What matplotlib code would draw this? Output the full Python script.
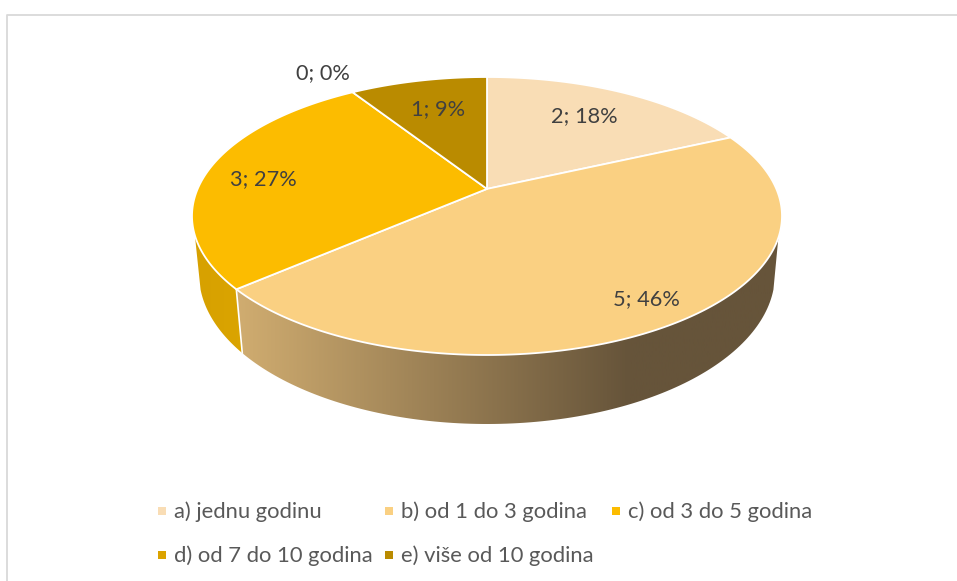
import numpy as np
import matplotlib
matplotlib.use('Agg')
import matplotlib.pyplot as plt
from matplotlib.colors import LinearSegmentedColormap
from matplotlib.patches import Polygon, Rectangle

#%% data
labels = ['a) jednu godinu', 'b) od 1 do 3 godina', 'c) od 3 do 5 godina',
          'd) od 7 do 10 godina', 'e) više od 10 godina']
counts = [2, 5, 3, 0, 1]
percents = [18, 46, 27, 0, 9]
top_colors = ['#F9DDB5', '#FAD082', '#FCBC00', '#DBA300', '#BA8B00']

#%% geometry of the tilted disc, in image pixels
cx, cy, rx, ry = 487, 216, 295, 139
apex_shift = 0.195
low_cy, low_rx, low_ry = 274, 288, 150
H, W = 581, 957

plt.rcParams['font.family'] = ['Lato', 'DejaVu Sans']


def rimPoint(t):
    # t clockwise from the top, in radians; perspective moves the apex up
    u, v = np.sin(t), np.cos(t)
    d = 1 + apex_shift * v
    x = u * np.sqrt(1 - apex_shift ** 2) / d
    y = (v + apex_shift) / d
    return cx + rx * x, cy - ry * y


def belowAngle(t):
    # angle on the ellipse, 0 at the right end and pi at the left, going by the front
    x, y = rimPoint(t)
    return np.arctan2((y - cy) / ry, (x - cx) / rx)


def upperArc(b):
    return cx + rx * np.cos(b), cy + ry * np.sin(b)


def lowerArc(b):
    return cx + low_rx * np.cos(b), low_cy + low_ry * np.sin(b)


def wall(ax, b0, b1, low0, low1, stops, x0, x1):
    ux, uy = upperArc(np.linspace(b0, b1, 120))
    lx, ly = lowerArc(np.linspace(low1, low0, 120))
    pts = np.column_stack([np.r_[ux, lx], np.r_[uy, ly]])
    poly = Polygon(pts, closed=True, fc='none', ec='none', transform=ax.transData)
    ax.add_patch(poly)
    cmap = LinearSegmentedColormap.from_list('w', stops)
    grad = np.linspace(0, 1, 256).reshape(1, -1)
    im = ax.imshow(grad, cmap=cmap, extent=[x0, x1, H, 0], aspect='auto', zorder=1)
    im.set_clip_path(poly)


fig = plt.figure(figsize=(W / 100, H / 100), dpi=100)
ax = fig.add_axes([0, 0, 1, 1])
ax.axis('off')

# chart frame, only top and left fall inside the crop
ax.plot([W, 6.5, 6.5], [14.5, 14.5, H], color='#D9D9D9', lw=1.3, zorder=0)

# slice limits from the counts
edges = np.r_[0, np.cumsum(counts)] / np.sum(counts) * 2 * np.pi

# side wall of the pie
seam = belowAngle(edges[2])
b_right = np.radians(9)
b_left = np.pi - np.radians(8)
wall(ax, b_right, seam, np.radians(6), seam,
     [(0, '#D2AE71'), (0.72, '#66543A'), (1, '#66543A')], 230, 785)
wall(ax, seam, b_left, seam, np.pi - np.radians(6), ['#D6A000', '#DBA500'], 185, 250)

# seam between the two visible wall parts
sx = [upperArc(seam)[0], lowerArc(seam)[0]]
sy = [upperArc(seam)[1], lowerArc(seam)[1]]
ax.plot(sx, sy, color='white', lw=1.2, zorder=2)

# top of the pie
apex_y = cy - ry * apex_shift
for i, n in enumerate(counts):
    if n == 0:
        continue
    t = np.linspace(edges[i], edges[i + 1], 200)
    x, y = rimPoint(t)
    ax.fill(np.r_[cx, x], np.r_[apex_y, y], color=top_colors[i], ec='white', lw=1.3,
            zorder=3, joinstyle='round')

# data labels
label_xy = [(584, 116), (646, 299), (263, 179), (323, 73), (438, 109)]
for i, (px, py) in enumerate(label_xy):
    ax.text(px, py, f'{counts[i]}; {percents[i]}%', ha='center', va='center',
            fontsize=15.7, color='#404040', zorder=4)

# legend
legend_xy = [(158, 511), (385, 511), (612, 511), (158, 555), (385, 555)]
for i, (px, py) in enumerate(legend_xy):
    ax.add_patch(Rectangle((px, py - 4), 8, 8, fc=top_colors[i], ec='none'))
    ax.text(px + 16, py + 1, labels[i], ha='left', va='center', fontsize=15.8, color='#595959')

ax.set_xlim(0, W)
ax.set_ylim(H, 0)
fig.savefig('out.png', dpi=100)
